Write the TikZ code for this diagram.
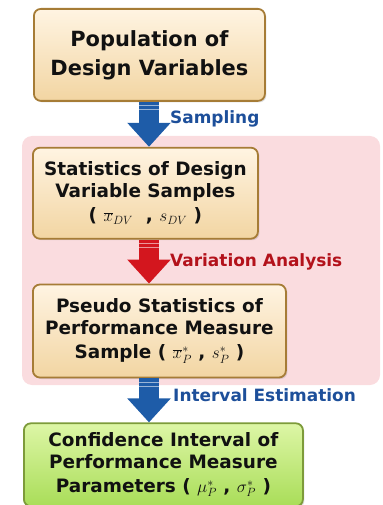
\documentclass[tikz,border=0pt]{standalone}
\usepackage{fontspec}
\setmainfont{DejaVu Sans}
\usetikzlibrary{arrows.meta,positioning,shadows,calc}
\definecolor{ink}{HTML}{111111}
\definecolor{boxline}{HTML}{A67C36}
\definecolor{boxtop}{HTML}{FFF4E2}
\definecolor{boxbot}{HTML}{F2D5A2}
\definecolor{resline}{HTML}{7D9B3A}
\definecolor{restop}{HTML}{DDF6A6}
\definecolor{resbot}{HTML}{A9DD58}
\definecolor{pinkbg}{HTML}{FADCDF}
\definecolor{arrblue}{HTML}{1E5CA8}
\definecolor{arrred}{HTML}{D3161E}
\definecolor{labblue}{HTML}{1D4F9A}
\definecolor{labred}{HTML}{B3121B}
\tikzset{
  stepbox/.style={draw=boxline, line width=1.8bp, rounded corners=7bp,
                  top color=boxtop, bottom color=boxbot, inner sep=0pt,
                  font=\fontsize{18.5}{21.5}\selectfont\bfseries, align=center, text=ink,
                  drop shadow={opacity=0.25, shadow xshift=1.5bp, shadow yshift=-1.5bp}},
  resbox/.style={stepbox, draw=resline, top color=restop, bottom color=resbot},
  flow/.style={-{Triangle[width=42bp, length=24bp]}, line width=20bp, draw=#1},
  lab/.style={font=\fontsize{17}{20}\selectfont\bfseries, anchor=west, inner sep=0pt},
}
\begin{document}
\begin{tikzpicture}[x=1bp, y=-1bp, node distance=44bp]
  \useasboundingbox (0,0) rectangle (382,505);
  % pink band behind the two middle steps
  \fill[pinkbg, rounded corners=10bp] (22,136) rectangle (380,385);
  \coordinate (ax) at (149,0);
  \node[stepbox, font=\fontsize{21}{29}\selectfont\bfseries, minimum width=231bp,
        minimum height=92bp, anchor=north west] (pop) at (33,8) {Population of\\Design Variables};
  \node[stepbox, minimum width=225bp, minimum height=91bp, below=45bp of pop.south west,
        anchor=north west, xshift=-1bp] (stat)
        {Statistics of Design\\Variable Samples\\[3bp]( $\overline{x}_{DV}$\ \ , $s_{DV}$ )};
  \node[stepbox, minimum width=253bp, minimum height=93bp, below=of stat.south west,
        anchor=north west] (perf)
        {Pseudo Statistics of\\Performance Measure\\[3bp]Sample ( $\overline{x}^{*}_{P}$ , $s^{*}_{P}$ )};
  \node[resbox, minimum width=279bp, minimum height=83bp, below=of perf.south west,
        anchor=north west, xshift=-9bp] (conf)
        {Confidence Interval of\\Performance Measure\\[3bp]Parameters ( $\mu^{*}_{P}$ , $\sigma^{*}_{P}$ )};
  \foreach \a/\b/\c in {pop/stat/arrblue, stat/perf/arrred, perf/conf/arrblue} {
    \draw[flow=\c] (\a.south -| ax) -- (\b.north -| ax);
    \foreach \d in {4,8}
      \draw[white, opacity=.55, line width=1.2bp]
        ($(\a.south -| ax)+(-10,\d)$) -- ($(\a.south -| ax)+(10,\d)$);
  }
  \node[lab, text=labblue] (samp) at (170,119) {Sampling};
  \node[lab, text=labred] (vari) at (170,262) {Variation Analysis};
  \node[lab, text=labblue] (intv) at (173,395) {Interval Estimation};
\end{tikzpicture}
\end{document}
